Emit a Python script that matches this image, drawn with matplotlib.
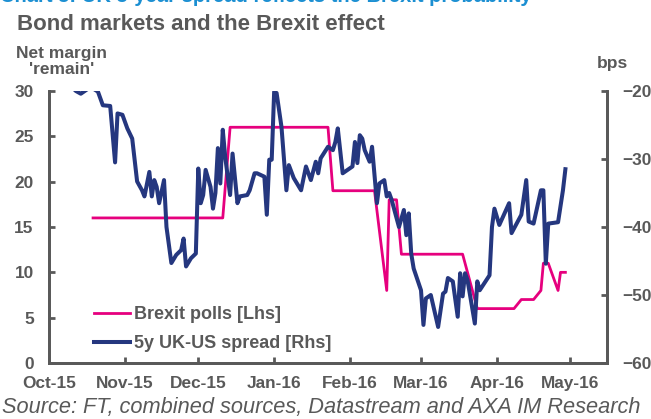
"""Bond markets and the Brexit effect: Brexit polls (lhs) vs 5y UK-US spread (rhs)."""

import matplotlib
matplotlib.use("Agg")
import matplotlib.pyplot as plt
import matplotlib.dates as mdates
from matplotlib import font_manager as fm
import pandas as pd

GREY = "#595959"
PINK = "#E6007E"
NAVY = "#25377F"
BLUE_TITLE = "#1B8FD2"


def _bold_family():
    # need a family that really ships a bold face, else text comes out regular
    for fam in ["Liberation Sans", "Roboto", "Open Sans", "Noto Sans"]:
        for f in fm.fontManager.ttflist:
            w = f.weight if isinstance(f.weight, int) else fm.weight_dict.get(f.weight, 400)
            if f.name == fam and w >= 700 and f.style == "normal":
                return fam
    return "DejaVu Sans"


FAMILY = _bold_family()
plt.rcParams["font.family"] = [FAMILY, "DejaVu Sans"]
plt.rcParams["font.weight"] = "bold"

# Brexit polls: net margin 'remain' (lhs)
poll_dates = ["2015-10-19", "2015-12-11", "2015-12-14", "2016-01-23", "2016-01-25",
              "2016-02-11", "2016-02-16", "2016-02-17", "2016-02-20", "2016-02-22",
              "2016-03-18", "2016-03-24", "2016-04-08", "2016-04-11", "2016-04-16",
              "2016-04-19", "2016-04-20", "2016-04-22", "2016-04-26", "2016-04-27",
              "2016-04-29"]
poll_values = [16, 16, 26, 26, 19,
               19, 8, 18, 18, 12,
               12, 6, 6, 7, 7,
               8, 11, 11, 8, 10,
               10]

# 5y UK-US spread, bps (rhs)
spread_dates = ["2015-10-10", "2015-10-12", "2015-10-14", "2015-10-16", "2015-10-18",
                "2015-10-21", "2015-10-23", "2015-10-26", "2015-10-28", "2015-10-29",
                "2015-10-31", "2015-11-02", "2015-11-04", "2015-11-06", "2015-11-08",
                "2015-11-09", "2015-11-11", "2015-11-12", "2015-11-13", "2015-11-14",
                "2015-11-15", "2015-11-17", "2015-11-18", "2015-11-20", "2015-11-22",
                "2015-11-24", "2015-11-25", "2015-11-26", "2015-11-28", "2015-11-30",
                "2015-12-01", "2015-12-02", "2015-12-03", "2015-12-04", "2015-12-06",
                "2015-12-07", "2015-12-08", "2015-12-09", "2015-12-10", "2015-12-11",
                "2015-12-12", "2015-12-14", "2015-12-15", "2015-12-17", "2015-12-18",
                "2015-12-21", "2015-12-22", "2015-12-24", "2015-12-25", "2015-12-28",
                "2015-12-29", "2015-12-30", "2015-12-31", "2016-01-01", "2016-01-02",
                "2016-01-04", "2016-01-06", "2016-01-07", "2016-01-09", "2016-01-12",
                "2016-01-14", "2016-01-16", "2016-01-18", "2016-01-19", "2016-01-20",
                "2016-01-23", "2016-01-25", "2016-01-26", "2016-01-27", "2016-01-29",
                "2016-02-02", "2016-02-03", "2016-02-04", "2016-02-05", "2016-02-06",
                "2016-02-07", "2016-02-09", "2016-02-10", "2016-02-12", "2016-02-13",
                "2016-02-15", "2016-02-16", "2016-02-17", "2016-02-18", "2016-02-21",
                "2016-02-23", "2016-02-24", "2016-02-25", "2016-02-26", "2016-02-27",
                "2016-03-01", "2016-03-02", "2016-03-03", "2016-03-05", "2016-03-08",
                "2016-03-10", "2016-03-11", "2016-03-12", "2016-03-14", "2016-03-16",
                "2016-03-17", "2016-03-18", "2016-03-19", "2016-03-20", "2016-03-23",
                "2016-03-24", "2016-03-25", "2016-03-29", "2016-03-30", "2016-03-31",
                "2016-04-02", "2016-04-06", "2016-04-07", "2016-04-11", "2016-04-13",
                "2016-04-14", "2016-04-16", "2016-04-19", "2016-04-20", "2016-04-21",
                "2016-04-22", "2016-04-26", "2016-04-28", "2016-04-29"]
spread_values = [-19.3, -20.0, -20.4, -19.9, -19.4,
                 -20.1, -22.1, -22.2, -30.5, -23.3,
                 -23.5, -25.5, -27.0, -33.3, -34.6,
                 -35.5, -31.9, -35.5, -33.1, -34.1,
                 -36.5, -33.1, -40.0, -45.3, -44.1,
                 -43.4, -41.7, -45.8, -44.6, -43.9,
                 -31.4, -36.5, -35.3, -31.6, -34.1,
                 -37.3, -35.0, -28.4, -33.6, -25.7,
                 -29.7, -35.3, -29.2, -36.5, -35.5,
                 -35.3, -34.6, -32.1, -32.1, -32.6,
                 -38.2, -30.1, -30.1, -20.1, -20.3,
                 -25.3, -34.6, -30.9, -32.8, -34.6,
                 -31.1, -33.1, -30.4, -32.1, -29.9,
                 -28.2, -28.7, -27.5, -25.5, -32.1,
                 -31.1, -27.5, -30.6, -26.5, -27.0,
                 -28.7, -30.4, -28.2, -36.5, -33.6,
                 -33.1, -35.5, -35.0, -36.0, -40.0,
                 -37.5, -41.2, -38.0, -43.9, -46.1,
                 -49.3, -54.4, -50.5, -50.0, -54.7,
                 -49.8, -49.5, -47.5, -48.0, -53.2,
                 -46.8, -50.2, -46.8, -47.8, -54.2,
                 -48.0, -49.3, -47.1, -40.0, -37.3,
                 -39.7, -36.5, -40.9, -38.2, -33.1,
                 -39.2, -39.5, -34.6, -34.6, -45.4,
                 -39.5, -39.3, -34.6, -31.5]

month_ticks = pd.date_range("2015-10-01", "2016-05-01", freq="MS")

fig = plt.figure(figsize=(6.51, 4.19), dpi=100)
ax = fig.add_axes([49 / 651, 56 / 419, 558 / 651, 272 / 419])
ax2 = ax.twinx()

ax.plot(pd.to_datetime(poll_dates), poll_values, color=PINK, lw=2.0,
        label="Brexit polls [Lhs]", zorder=2)
ax2.plot(pd.to_datetime(spread_dates), spread_values, color=NAVY, lw=2.9,
         label="5y UK-US spread [Rhs]", zorder=3)

ax.set_xlim(pd.Timestamp("2015-10-01"), pd.Timestamp("2016-05-16"))
ax.set_ylim(0, 30)
ax2.set_ylim(-60, -20)
ax.set_yticks(range(0, 31, 5))
ax2.set_yticks(range(-60, -19, 10))
ax.set_xticks(month_ticks)
ax.xaxis.set_major_formatter(mdates.DateFormatter("%b-%y"))

for a in (ax, ax2):
    a.spines["top"].set_visible(False)
    for s in ("left", "right", "bottom"):
        a.spines[s].set_color(GREY)
        a.spines[s].set_linewidth(2)
    a.tick_params(direction="in", length=4, width=2, color=GREY, labelcolor=GREY,
                  labelsize=12.4)
ax.tick_params(axis="y", pad=11)
ax.tick_params(axis="x", pad=9)
ax2.tick_params(axis="y", pad=11)

h1, l1 = ax.get_legend_handles_labels()
h2, l2 = ax2.get_legend_handles_labels()
leg = ax2.legend(h1 + h2, l1 + l2, loc="lower left", bbox_to_anchor=(0.052, -0.019),
                 frameon=False, handlelength=2.0, handletextpad=0.2,
                 labelspacing=0.65, prop={"weight": "bold", "size": 13})
for t in leg.get_texts():
    t.set_color(GREY)

fig.text(0 / 651, 1 - 2 / 419, "Chart 5: UK 5-year spread reflects the Brexit probability",
         fontsize=14.5, color=BLUE_TITLE, ha="left", va="baseline")
fig.text(17 / 651, 1 - 30 / 419, "Bond markets and the Brexit effect", fontsize=16,
         color=GREY, ha="left", va="baseline")
fig.text(62 / 651, 1 - 74 / 419, "Net margin\n'remain'", fontsize=12.5,
         color=GREY, ha="center", va="baseline", linespacing=1.1)
fig.text(612 / 651, 1 - 68 / 419, "bps", fontsize=12.5, color=GREY,
         ha="center", va="baseline")
fig.text(2 / 651, 1 - 413 / 419,
         "Source: FT, combined sources, Datastream and AXA IM Research",
         fontsize=15.7, fontstyle="italic", fontweight="normal", color=GREY,
         ha="left", va="baseline")

fig.savefig("out.png", dpi=100)
